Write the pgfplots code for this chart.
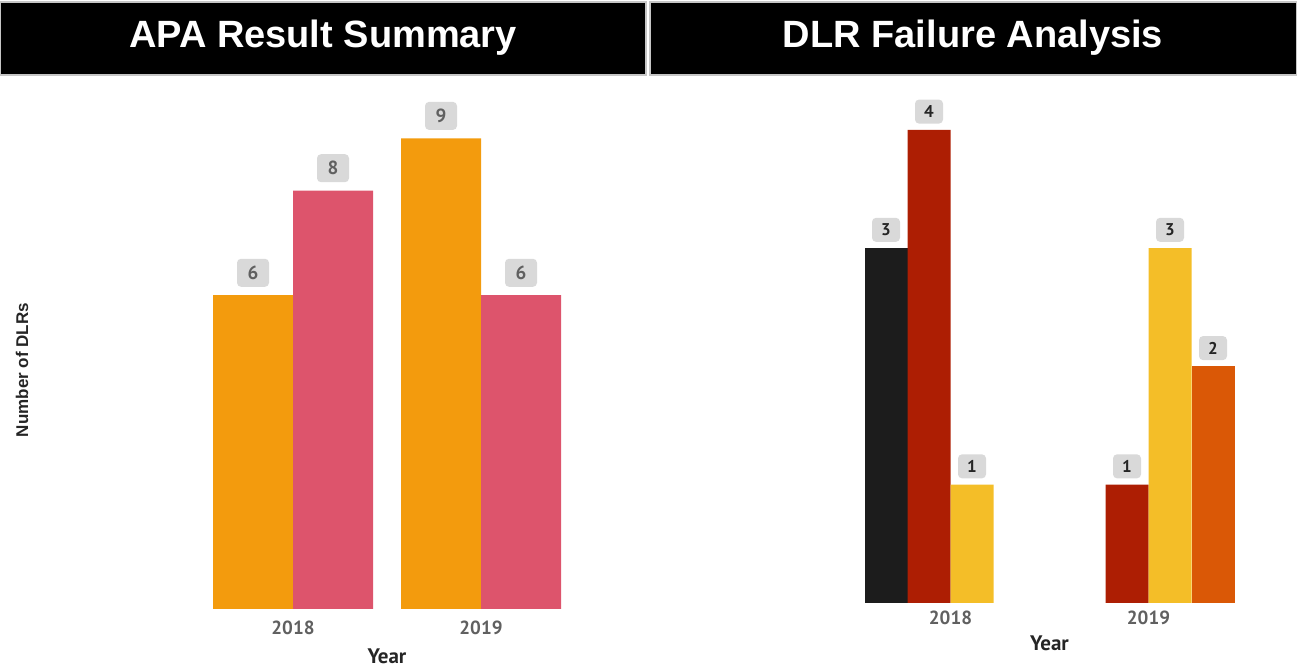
\documentclass[border=0pt]{standalone}
\usepackage{pgfplots}
\pgfplotsset{compat=1.18}
\usepackage{fontspec}
\setmainfont{Liberation Sans}
\newfontfamily\dinfont{PT Sans}

\definecolor{orangeA}{RGB}{243,155,13}
\definecolor{pinkA}{RGB}{221,84,108}
\definecolor{blackB}{RGB}{28,28,28}
\definecolor{redB}{RGB}{173,30,3}
\definecolor{yellowB}{RGB}{244,190,40}
\definecolor{orangeB}{RGB}{218,88,6}
\definecolor{boxgray}{RGB}{217,217,217}
\definecolor{tickgray}{RGB}{96,96,96}
\definecolor{darktext}{RGB}{37,37,37}

\pgfplotsset{
  panel/.style={
    anchor=south west, ymin=0, xmin=-0.7, xmax=1.7,
    axis x line*=bottom, axis y line=none,
    x axis line style={draw=none}, xtick style={draw=none},
    xtick={0,1}, xticklabels={2018,2019},
    ticklabel style={font=\dinfont\bfseries\fontsize{9.5}{11}\selectfont, text=tickgray},
    xlabel=Year,
    xlabel style={at={(axis description cs:0.5,0)}, anchor=center,
      font=\dinfont\bfseries\fontsize{10.5}{12}\selectfont, text=darktext},
    ybar, clip=false,
    nodes near coords={\pgfmathprintnumber[assume math mode=true]{\pgfplotspointmeta}},
  },
}

\begin{document}
\begin{tikzpicture}
\path[use as bounding box] (0,0) rectangle (648.5pt,334pt);
% title bars
\fill[black, draw=gray!45, line width=0.6pt] (0.25pt,296.5pt) rectangle (323pt,333pt);
\fill[black, draw=gray!45, line width=0.6pt] (325pt,296.5pt) rectangle (648.25pt,333pt);
\node[text=white, font=\bfseries\fontsize{19}{22}\selectfont] at (161.5pt,315pt) {APA Result Summary};
\node[text=white, font=\bfseries\fontsize{19}{22}\selectfont] at (486.5pt,315pt) {DLR Failure Analysis};
\node[rotate=90, text=darktext, font=\bfseries\fontsize{8.5}{10}\selectfont] at (11pt,149pt) {Number of DLRs};

% left: APA result summary
\begin{axis}[panel, at={(80.7pt,29.5pt)}, x=94pt, y=26.15pt, ymax=10,
  bar width=40pt,
  xticklabel shift=-2pt,
  xlabel style={yshift=-23.5pt},
  every node near coord/.append style={fill=boxgray, rounded corners=2pt,
    minimum width=16pt, minimum height=14pt, inner sep=0pt, yshift=4pt,
    text=tickgray, font=\dinfont\bfseries\fontsize{9.5}{11}\selectfont},
  ]
  \addplot[fill=orangeA, draw=none, bar shift=-20pt] coordinates {(0,6) (1,9)};
  \addplot[fill=pinkA, draw=none, bar shift=20pt] coordinates {(0,8) (1,6)};
\end{axis}

% right: DLR failure analysis
\begin{axis}[panel, at={(405.95pt,32.5pt)}, x=99pt, y=59.125pt, ymax=4.4,
  bar width=21.5pt,
  xticklabel shift=-4pt,
  xlabel style={yshift=-20pt},
  every node near coord/.append style={fill=boxgray, rounded corners=2pt,
    minimum width=14pt, minimum height=12pt, inner sep=0pt, yshift=3pt,
    text=darktext, font=\dinfont\bfseries\fontsize{8.5}{10}\selectfont},
  ]
  \addplot[fill=blackB, draw=none, bar shift=-32.25pt] coordinates {(0,3)};
  \addplot[fill=redB, draw=none, bar shift=-10.75pt] coordinates {(0,4) (1,1)};
  \addplot[fill=yellowB, draw=none, bar shift=10.75pt] coordinates {(0,1) (1,3)};
  \addplot[fill=orangeB, draw=none, bar shift=32.25pt] coordinates {(1,2)};
\end{axis}
\end{tikzpicture}
\end{document}
